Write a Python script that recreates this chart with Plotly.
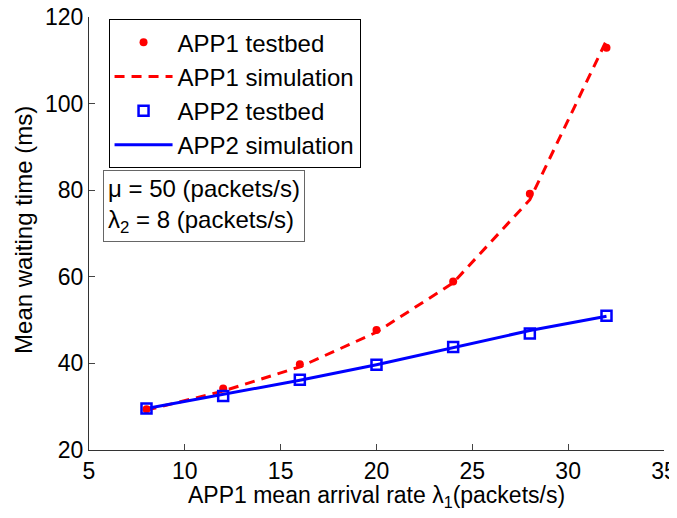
import plotly.graph_objects as go

x_rate = [8, 12, 16, 20, 24, 28, 32]
app1_testbed = [29.4, 34.2, 39.8, 47.7, 58.9, 79.2, 112.9]
app1_sim = [29.2, 33.6, 39.2, 47.2, 58.6, 77.8, 114.6]
app2_testbed = [29.6, 32.5, 36.2, 39.7, 43.8, 46.9, 51.0]
app2_sim = [29.6, 32.8, 36.1, 39.7, 43.6, 47.6, 50.9]

x_ticks = [5, 10, 15, 20, 25, 30, 35]
y_ticks = [20, 40, 60, 80, 100, 120]

x_title = "APP1 mean arrival rate λ<sub>1</sub>(packets/s)"
y_title = "Mean waiting time (ms)"

FONT = "Liberation Sans, Arial, Helvetica, sans-serif"
FS = 24

fig = go.Figure()
fig.add_trace(go.Scatter(x=x_rate, y=app1_sim, mode="lines", name="APP1 simulation",
                         legendrank=2,
                         line=dict(color="#ff0000", width=3, dash="10px,7px")))
fig.add_trace(go.Scatter(x=x_rate, y=app2_sim, mode="lines", name="APP2 simulation",
                         legendrank=4,
                         line=dict(color="#0000ff", width=3)))
fig.add_trace(go.Scatter(x=x_rate, y=app1_testbed, mode="markers", name="APP1 testbed",
                         legendrank=1,
                         marker=dict(symbol="circle", size=8, color="#ff0000")))
fig.add_trace(go.Scatter(x=x_rate, y=app2_testbed, mode="markers", name="APP2 testbed",
                         legendrank=3,
                         marker=dict(symbol="square-open", size=10, color="#0000ff",
                                     line=dict(width=2.5, color="#0000ff"))))

fig.add_annotation(
    xref="paper", yref="paper", x=0.024, y=0.647, xanchor="left", yanchor="top",
    text="μ = 50 (packets/s)<br>λ<sub>2</sub> = 8 (packets/s)",
    showarrow=False, align="left", bordercolor="#666666", borderwidth=1,
    borderpad=4, bgcolor="white", font=dict(size=FS, color="black", family=FONT),
)
# axis titles
fig.add_annotation(
    xref="paper", yref="paper", x=0.5, y=-0.069, xanchor="center", yanchor="top",
    text=x_title, showarrow=False, font=dict(size=23, color="black", family=FONT),
)
fig.add_annotation(
    xref="paper", yref="paper", x=-0.115, y=0.508, xanchor="center", yanchor="middle",
    text=y_title, textangle=-90, showarrow=False,
    font=dict(size=FS, color="black", family=FONT),
)

# the page body has an 8px default margin, so the figure is 8px smaller than the window
fig.update_layout(
    width=669, height=510,
    margin=dict(l=81, r=13, t=9, b=68),
    paper_bgcolor="white", plot_bgcolor="white",
    font=dict(family=FONT, size=FS, color="black"),
    showlegend=True,
    legend=dict(x=0.034, y=0.995, xanchor="left", yanchor="top",
                bordercolor="black", borderwidth=1, bgcolor="white",
                traceorder="normal", itemwidth=58, tracegroupgap=0,
                font=dict(size=FS, family=FONT)),
    xaxis=dict(range=[5, 35], tickvals=x_ticks, ticks="inside", ticklen=6,
               showline=True, linecolor="#333333", linewidth=1, showgrid=False,
               zeroline=False, tickfont=dict(size=23), ticklabeloverflow="allow",
               automargin=False),
    yaxis=dict(range=[20, 120], tickvals=y_ticks, ticks="inside", ticklen=6,
               showline=True, linecolor="#333333", linewidth=1, showgrid=False,
               zeroline=False, tickfont=dict(size=23), ticklabeloverflow="allow",
               automargin=False),
)

fig.write_html("out.html")
